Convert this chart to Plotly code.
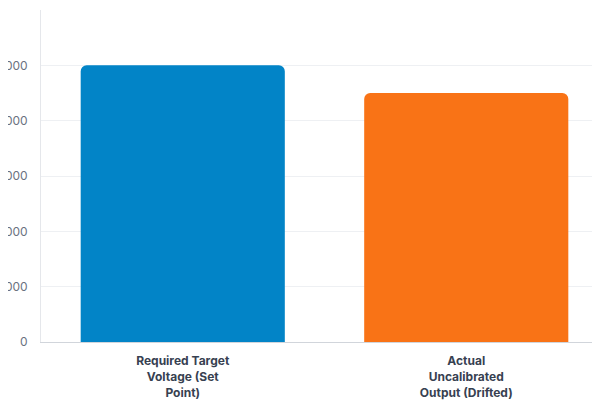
import plotly.graph_objects as go

categories = ["Required Target<br>Voltage (Set<br>Point)", "Actual<br>Uncalibrated<br>Output (Drifted)"]
values = [5.0, 4.5]
colors = ["#0284c7", "#f97316"]
tick_vals = [0, 1, 2, 3, 4, 5, 6]
tick_text = ["0", "1.000", "2.000", "3.000", "4.000", "5.000", "6.000"]

fig = go.Figure(go.Bar(x=categories, y=values, marker=dict(color=colors, cornerradius=6, line=dict(width=0)),
                       width=0.72))
fig.update_layout(
    width=600, height=400, margin=dict(l=33, r=0, t=2, b=66),
    paper_bgcolor="white", plot_bgcolor="white", showlegend=False,
    font=dict(family="Inter", size=12),
    bargap=0.28,
)
fig.update_yaxes(range=[0, 6], tickvals=tick_vals, ticktext=tick_text, automargin=False,
                 gridcolor="#eef0f3", showline=True, linecolor="#e5e7eb", zeroline=False,
                 tickfont=dict(color="#6b7280", size=12), ticks="", ticklabelstandoff=10)
fig.update_xaxes(automargin=False, showline=True, linecolor="#d1d5db", ticklabelstandoff=8,
                 tickfont=dict(color="#374151", size=12, family="Inter", weight="bold"), ticks="")
fig.write_html("out.html")
